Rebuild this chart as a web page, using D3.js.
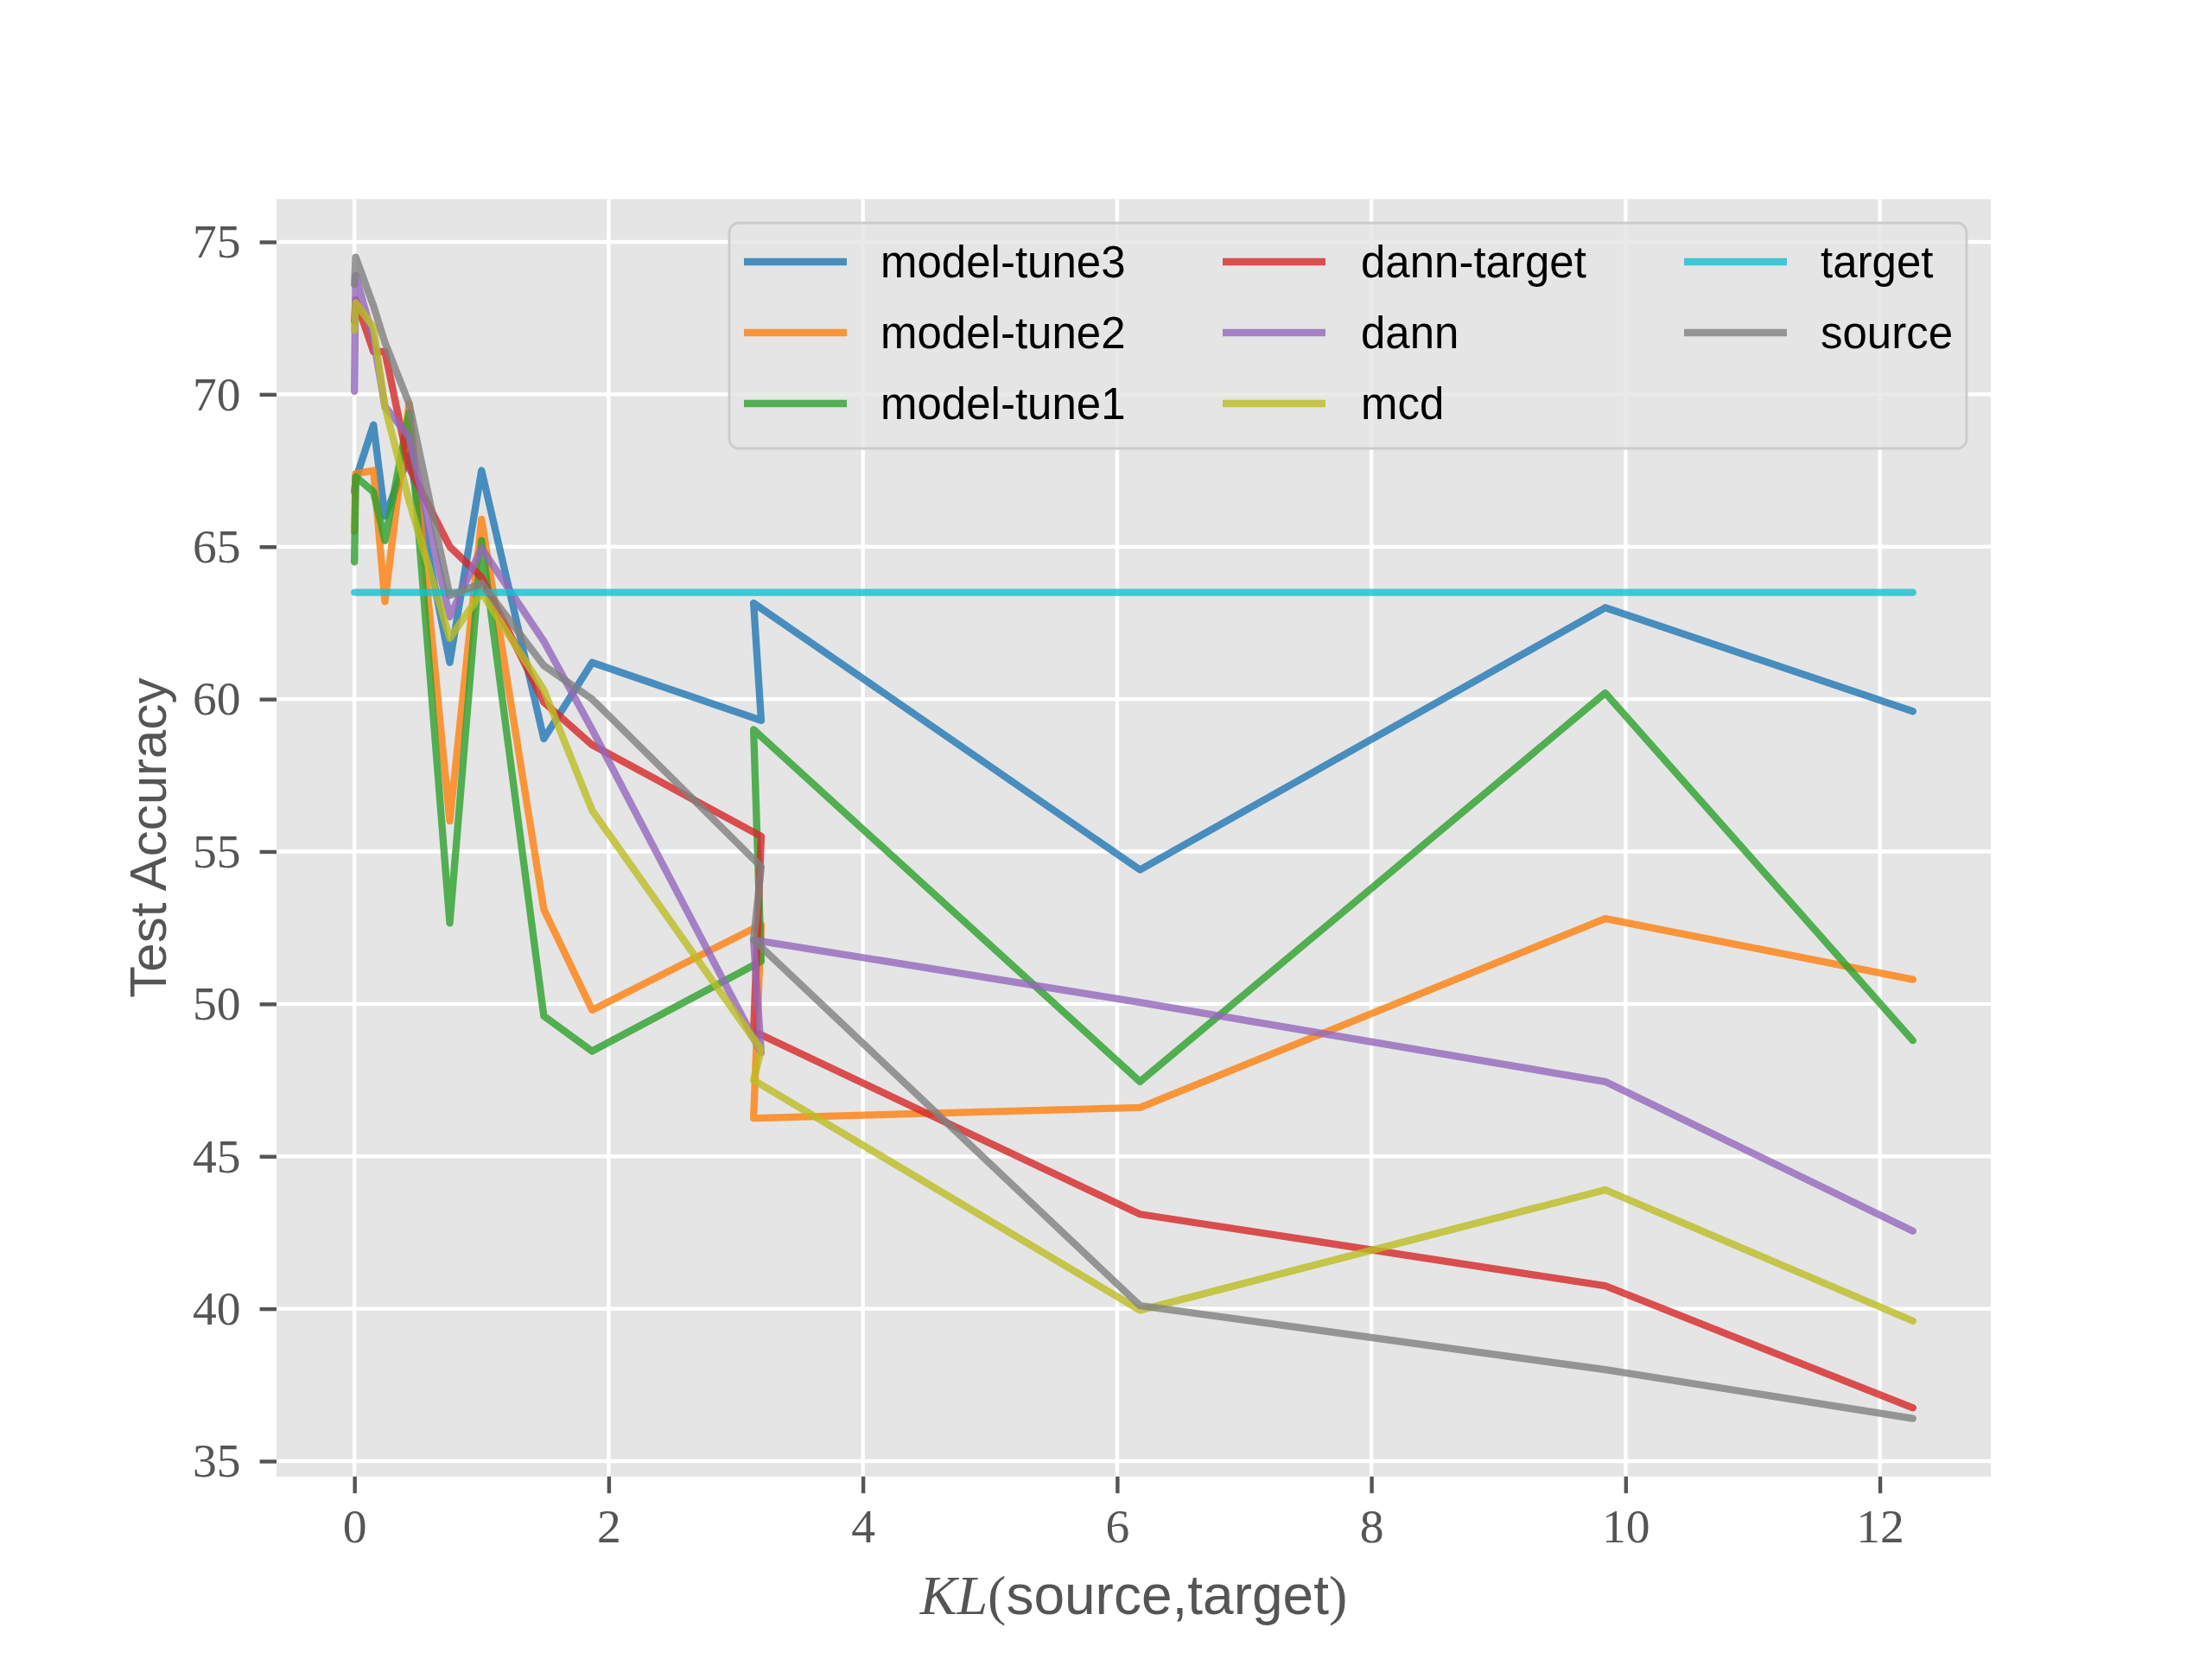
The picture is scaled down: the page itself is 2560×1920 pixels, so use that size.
<!DOCTYPE html>
<html>
<head>
<meta charset="utf-8">
<script src="https://cdn.jsdelivr.net/npm/d3@7"></script>
<style>
  body { margin: 0; background: #fff; }
  svg { display: block; }
</style>
</head>
<body>
<div id="chart"></div>
<script>
// KL(source,target) values, in the order they were logged
const klValues = [0, 0.01, 0.15, 0.24, 0.43, 0.75, 1.0, 1.49, 1.87, 3.2, 3.14, 6.18, 9.84, 12.26];

const modelTune3 = [66.8, 67.2, 69.0, 66.0, 68.0, 61.2, 67.5, 58.7, 61.2, 59.3, 63.15, 54.4, 63.0, 59.6];
const modelTune2 = [65.5, 67.4, 67.5, 63.2, 69.7, 56.0, 65.9, 53.1, 49.8, 52.6, 46.25, 46.6, 52.8, 50.8];
const modelTune1 = [64.5, 67.3, 66.8, 65.2, 69.4, 52.65, 65.2, 49.6, 48.45, 51.4, 59.0, 47.45, 60.2, 48.8];
const dannTarget = [72.4, 73.1, 71.4, 71.4, 67.6, 65.0, 64.0, 59.9, 58.5, 55.5, 49.1, 43.1, 40.75, 36.75];
const dann = [70.1, 73.9, 71.8, 69.6, 68.6, 62.7, 64.95, 61.9, 59.0, 48.4, 52.1, 50.05, 47.45, 42.55];
const mcd = [72.1, 73.0, 72.2, 69.6, 66.5, 62.0, 63.5, 60.3, 56.35, 48.5, 47.5, 39.95, 43.9, 39.6];
const target = [63.5, 63.5, 63.5, 63.5, 63.5, 63.5, 63.5, 63.5, 63.5, 63.5, 63.5, 63.5, 63.5, 63.5];
const source = [73.6, 74.5, 72.9, 71.7, 69.7, 63.4, 63.8, 61.1, 60.0, 54.5, 52.1, 40.1, 38.0, 36.4];

const seriesNames = ["model-tune3", "model-tune2", "model-tune1", "dann-target", "dann", "mcd", "target", "source"];
const seriesValues = [modelTune3, modelTune2, modelTune1, dannTarget, dann, mcd, target, source];
const seriesColors = ["#1f77b4", "#ff7f0e", "#2ca02c", "#d62728", "#9467bd", "#bcbd22", "#17becf", "#7f7f7f"];

const xTicks = [0, 2, 4, 6, 8, 10, 12];
const yTicks = [35, 40, 45, 50, 55, 60, 65, 70, 75];

const width = 2560;
const height = 1920;
const plotLeft = 320, plotRight = 2304, plotTop = 230.4, plotBottom = 1708.8;
const fs = 55.6; // 10pt at 400 dpi

const svg = d3.select("#chart")
  .append("svg")
  .attr("width", width)
  .attr("height", height);

// matplotlib-style 5% margins around the data
const xExt = d3.extent(klValues);
const xPad = (xExt[1] - xExt[0]) * 0.05;
const allY = seriesValues.flat();
const yExt = d3.extent(allY);
const yPad = (yExt[1] - yExt[0]) * 0.05;

const x = d3.scaleLinear().domain([xExt[0] - xPad, xExt[1] + xPad]).range([plotLeft, plotRight]);
const y = d3.scaleLinear().domain([yExt[0] - yPad, yExt[1] + yPad]).range([plotBottom, plotTop]);

// axes background
svg.append("rect")
  .attr("x", plotLeft)
  .attr("y", plotTop)
  .attr("width", plotRight - plotLeft)
  .attr("height", plotBottom - plotTop)
  .attr("fill", "#e5e5e5");

// grid
const grid = svg.append("g");
grid.selectAll(".vgrid")
  .data(xTicks)
  .enter()
  .append("line")
  .attr("x1", (d) => x(d))
  .attr("x2", (d) => x(d))
  .attr("y1", plotTop)
  .attr("y2", plotBottom)
  .attr("stroke", "#fff")
  .attr("stroke-width", 4.4);
grid.selectAll(".hgrid")
  .data(yTicks)
  .enter()
  .append("line")
  .attr("x1", plotLeft)
  .attr("x2", plotRight)
  .attr("y1", (d) => y(d))
  .attr("y2", (d) => y(d))
  .attr("stroke", "#fff")
  .attr("stroke-width", 4.4);

// lines
const line = d3.line()
  .x((d, i) => x(klValues[i]))
  .y((d) => y(d));

svg.append("g")
  .selectAll("path")
  .data(seriesValues)
  .enter()
  .append("path")
  .attr("d", line)
  .attr("fill", "none")
  .attr("stroke", (d, i) => seriesColors[i])
  .attr("stroke-opacity", 0.8)
  .attr("stroke-width", 8.33)
  .attr("stroke-linejoin", "round")
  .attr("stroke-linecap", "round");

// axes
const xAxis = svg.append("g")
  .attr("transform", `translate(0,${plotBottom})`)
  .call(d3.axisBottom(x).tickValues(xTicks).tickSize(19.4).tickPadding(17).tickFormat(d3.format("d")));
const yAxis = svg.append("g")
  .attr("transform", `translate(${plotLeft},0)`)
  .call(d3.axisLeft(y).tickValues(yTicks).tickSize(19.4).tickPadding(22).tickFormat(d3.format("d")));

[xAxis, yAxis].forEach((ax) => {
  ax.select(".domain").remove();
  ax.selectAll(".tick line").attr("stroke", "#555").attr("stroke-width", 4.4);
  ax.selectAll(".tick text")
    .attr("fill", "#555")
    .style("font-family", "'Liberation Serif', 'DejaVu Serif', serif")
    .style("font-size", fs + "px");
});

// axis labels
svg.append("text")
  .attr("transform", `translate(192,${(plotTop + plotBottom) / 2}) rotate(-90)`)
  .attr("text-anchor", "middle")
  .attr("fill", "#555")
  .style("font-family", "'Liberation Sans', Arial, sans-serif")
  .style("font-size", "60px")
  .text("Test Accuracy");

const xLabel = svg.append("text")
  .attr("x", (plotLeft + plotRight) / 2)
  .attr("y", 1868)
  .attr("text-anchor", "middle")
  .attr("fill", "#555")
  .style("font-size", "64px");
xLabel.append("tspan")
  .style("font-family", "'Liberation Serif', serif")
  .style("font-style", "italic")
  .text("KL");
xLabel.append("tspan")
  .style("font-family", "'Liberation Serif', serif")
  .text("(");
xLabel.append("tspan")
  .style("font-family", "'Liberation Sans', Arial, sans-serif")
  .text("source,target");
xLabel.append("tspan")
  .style("font-family", "'Liberation Serif', serif")
  .text(")");

// legend, filled column by column (3 columns)
const legend = svg.append("g");
legend.append("rect")
  .attr("x", 844)
  .attr("y", 258)
  .attr("width", 2276 - 844)
  .attr("height", 519 - 258)
  .attr("rx", 11)
  .attr("fill", "#e5e5e5")
  .attr("fill-opacity", 0.8)
  .attr("stroke", "#cccccc")
  .attr("stroke-width", 3);

const colLineX = [861, 1415, 1949];
const colTextX = [1019, 1575, 2107];
const rowY = [303, 385, 467];

const legendItem = legend.selectAll(".legend-item")
  .data(seriesNames)
  .enter()
  .append("g")
  .attr("class", "legend-item")
  .attr("transform", (d, i) => `translate(0,${rowY[i % 3]})`);

legendItem.append("line")
  .attr("x1", (d, i) => colLineX[Math.floor(i / 3)])
  .attr("x2", (d, i) => colLineX[Math.floor(i / 3)] + 119)
  .attr("y1", 0)
  .attr("y2", 0)
  .attr("stroke", (d, i) => seriesColors[i])
  .attr("stroke-opacity", 0.8)
  .attr("stroke-width", 8.33);

legendItem.append("text")
  .attr("x", (d, i) => colTextX[Math.floor(i / 3)])
  .attr("y", 0)
  .attr("dy", "0.35em")
  .attr("fill", "#000")
  .style("font-family", "'Liberation Sans', Arial, sans-serif")
  .style("font-size", "51px")
  .text((d) => d);
</script>
</body>
</html>
